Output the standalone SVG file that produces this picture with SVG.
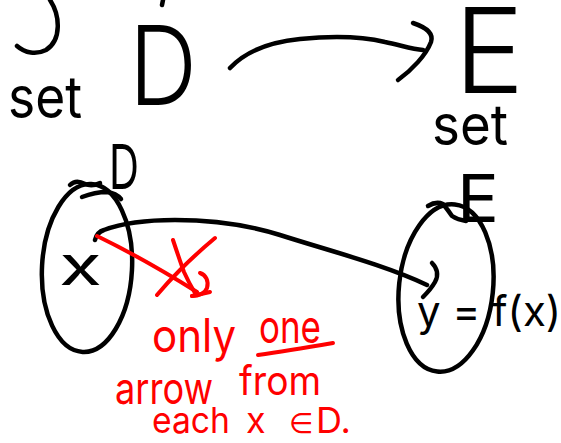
<svg xmlns="http://www.w3.org/2000/svg" width="561" height="443" viewBox="0 0 561 443">
  <style>
    .ink { fill: none; stroke: #000; stroke-width: 4.5; stroke-linecap: round; stroke-linejoin: round; }
    .red { fill: none; stroke: #ff0000; stroke-width: 4; stroke-linecap: round; stroke-linejoin: round; }
    .hand { font-family: Inter, Roboto, "Open Sans", "DejaVu Sans", sans-serif; fill: #000; }
    .big { font-weight: 300; }
    .note { font-family: Inter, Roboto, "Open Sans", "DejaVu Sans", sans-serif; fill: #ff0000; font-weight: 400; }
  </style>
  <rect width="561" height="443" fill="#fff"/>

  <!-- pen fragments along the top edge -->
  <g id="fragments">
    <path class="ink" d="M50,0 C60,15 62,40 46,50 C36,55 25,53 17,46"/>
    <path class="ink" d="M163,0 L162,5"/>
  </g>

  <!-- set D -->
  <g id="setD">
    <text class="hand big" transform="translate(129,105) scale(0.86,1)" font-size="110">D</text>
    <text class="hand" x="8" y="118" font-size="58" textLength="74" lengthAdjust="spacingAndGlyphs">set</text>
  </g>

  <!-- set E -->
  <g id="setE">
    <text class="hand big" x="454" y="93" font-size="118">E</text>
    <text class="hand" x="432" y="145" font-size="56" textLength="76" lengthAdjust="spacingAndGlyphs">set</text>
  </g>

  <!-- domain D drawn as an oval holding x -->
  <g id="domainD">
    <ellipse class="ink" cx="87" cy="268" rx="45" ry="84" transform="rotate(3 87 268)"/>
    <path class="ink" d="M70,185 Q76,179 85,184 Q92,187 100,183"/>
    <path class="ink" d="M82,197 Q95,192 107,192 Q116,193 121,199"/>
    <text class="hand" x="109" y="189" font-size="62" textLength="30" lengthAdjust="spacingAndGlyphs">D</text>
    <text class="hand" x="59" y="285" font-size="54" textLength="43" lengthAdjust="spacingAndGlyphs">x</text>
  </g>

  <!-- codomain E drawn as an oval holding y = f(x) -->
  <g id="codomainE">
    <ellipse class="ink" cx="446" cy="288" rx="47" ry="84" transform="rotate(6 446 288)"/>
    <path class="ink" d="M428,206 Q436,201 443,204 Q448,210 452,216 Q458,220 466,221"/>
    <text class="hand" x="457" y="222" font-size="66" textLength="42" lengthAdjust="spacingAndGlyphs">E</text>
    <text class="hand" x="417" y="326" font-size="42">y = f(x)</text>
  </g>

  <!-- connectors -->
  <g id="connectors">
    <path class="ink" d="M230,68 C245,52 270,42 300,39 C330,36 360,36 385,42 C400,45 412,49 423,50"/>
    <path class="ink" d="M413,23 C425,27 434,33 431,42 C426,55 412,70 398,80"/>
    <path class="ink" d="M95,240 Q97,232 104,230 C120,224 145,220 175,220 C210,220 245,224 280,235 C330,251 385,265 427,285"/>
    <path class="ink" d="M432,263 C437,268 439,275 435,282 C431,289 427,293 423,297"/>
  </g>

  <!-- red annotation: the crossed-out second arrow and the note -->
  <g id="annotation">
    <path class="red" d="M97,236 C130,252 165,272 197,292"/>
    <path class="red" d="M200,273 C206,275 209,281 207,288 C205,293 199,296 192,296"/>
    <path class="red" d="M192,296 L210,292"/>
    <path class="red" d="M173,240 C177,252 181,264 184,272 C188,281 192,288 195,293"/>
    <path class="red" d="M215,238 C203,248 190,260 180,270 C170,280 162,289 157,295"/>
    <text class="note" x="152" y="352" font-size="46" textLength="84" lengthAdjust="spacingAndGlyphs">only</text>
    <text class="note" x="259" y="343" font-size="46" textLength="62" lengthAdjust="spacingAndGlyphs">one</text>
    <path class="red" d="M258,355 C280,352 310,347 333,343"/>
    <text class="note" x="115" y="404" font-size="44" textLength="98" lengthAdjust="spacingAndGlyphs">arrow</text>
    <text class="note" x="239" y="395" font-size="40" textLength="82" lengthAdjust="spacingAndGlyphs">from</text>
    <text class="note" y="433" font-size="36"><tspan x="152" textLength="78" lengthAdjust="spacingAndGlyphs">each</tspan><tspan x="246">x</tspan><tspan x="289" font-size="28">∈</tspan><tspan x="316">D.</tspan></text>
  </g>
</svg>
